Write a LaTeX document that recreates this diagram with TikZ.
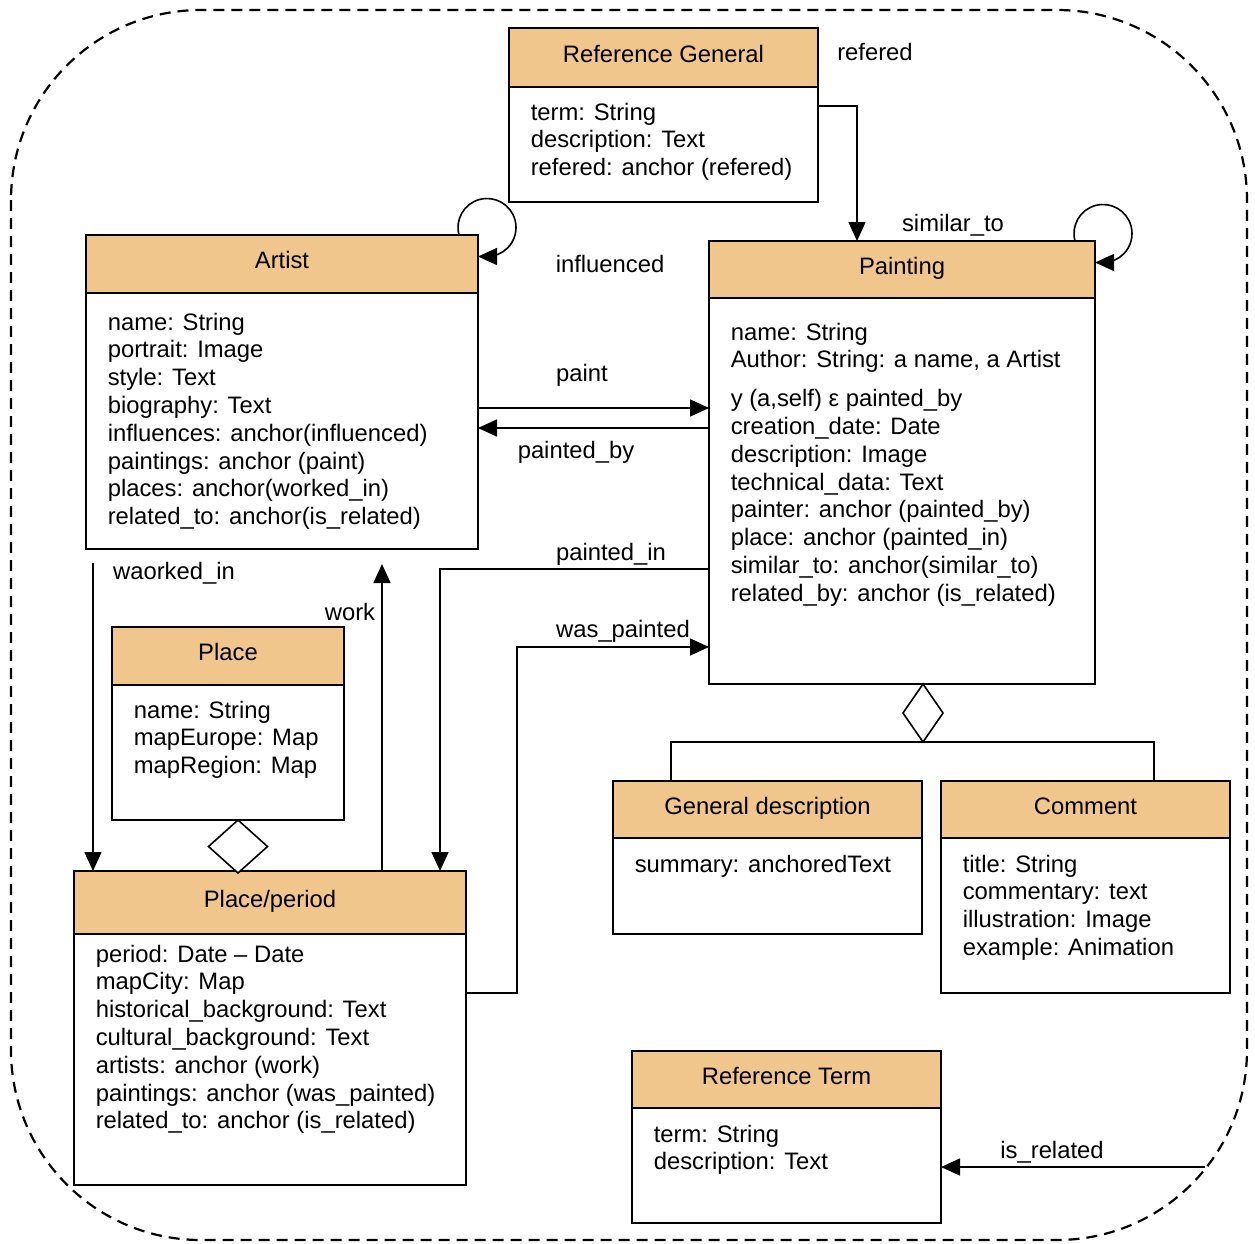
\documentclass[tikz,border=0pt]{standalone}
\usepackage{fontspec}
\setmainfont{Liberation Sans}
\usetikzlibrary{arrows.meta,shapes.geometric,calc}
\definecolor{classtan}{RGB}{240,198,140}

\begin{document}
\begin{tikzpicture}[x=1pt,y=-1pt,
    font=\fontsize{23.8}{27.8}\selectfont,
    line width=1.6pt,
    head/.style={draw, fill=classtan, anchor=north west, inner sep=0pt, outer sep=0pt, text height=17pt, text depth=8pt},
    body/.style={draw, fill=white, anchor=north west, inner sep=0pt, outer sep=0pt},
    attrs/.style={anchor=north west, align=left, inner sep=0pt},
    arr/.style={-{Triangle[length=19pt,width=17pt]}},
    agg/.style={draw, fill=white, diamond, inner sep=0pt, outer sep=0pt, anchor=north},
    rim/.style={dashed, line width=2.2pt, dash pattern=on 11pt off 7pt, rounded corners=190pt}]
            \useasboundingbox (0,0) rectangle (1255,1243);
            \draw[rim] (11,10) rectangle (1247,1240);
            % classes
            \node[head, minimum width=309pt, minimum height=59pt] (refgen) at (509,28) {Reference General};
            \node[body, minimum width=309pt, minimum height=115pt] (refgenbody) at (refgen.south west) {};
            \node[attrs] (refgentext) at ($(refgenbody.north west)+(21,15)$) {term: String\\description: Text\\refered: anchor (refered)};
            \node[head, minimum width=392pt, minimum height=58pt] (artist) at (86,235) {Artist};
            \node[body, minimum width=392pt, minimum height=256pt] (artistbody) at (artist.south west) {};
            \node[attrs] (artisttext) at ($(artistbody.north west)+(21,19)$) {name: String\\portrait: Image\\style: Text\\biography: Text\\influences: anchor(influenced)\\paintings: anchor (paint)\\places: anchor(worked\_in)\\related\_to: anchor(is\_related)};
            \node[head, minimum width=386pt, minimum height=57pt] (painting) at (709,241) {Painting};
            \node[body, minimum width=386pt, minimum height=386pt] (paintingbody) at (painting.south west) {};
            \node[attrs] (paintingtext) at ($(paintingbody.north west)+(21,24)$) {name: String\\Author: String: a name, a Artist\\[11pt]y (a,self) ε painted\_by\\creation\_date: Date\\description: Image\\technical\_data: Text\\painter: anchor (painted\_by)\\place: anchor (painted\_in)\\similar\_to: anchor(similar\_to)\\related\_by: anchor (is\_related)};
            \node[head, minimum width=232pt, minimum height=58pt] (place) at (112,627) {Place};
            \node[body, minimum width=232pt, minimum height=135pt] (placebody) at (place.south west) {};
            \node[attrs] (placetext) at ($(placebody.north west)+(21,15)$) {name: String\\mapEurope: Map\\mapRegion: Map};
            \node[head, minimum width=392pt, minimum height=63pt] (period) at (74,871) {Place/period};
            \node[body, minimum width=392pt, minimum height=251pt] (periodbody) at (period.south west) {};
            \node[attrs] (periodtext) at ($(periodbody.north west)+(21,10)$) {period: Date -- Date\\mapCity: Map\\historical\_background: Text\\cultural\_background: Text\\artists: anchor (work)\\paintings: anchor (was\_painted)\\related\_to: anchor (is\_related)};
            \node[head, minimum width=309pt, minimum height=57pt] (gendesc) at (613,781) {General description};
            \node[body, minimum width=309pt, minimum height=96pt] (gendescbody) at (gendesc.south west) {};
            \node[attrs] (gendesctext) at ($(gendescbody.north west)+(21,16)$) {summary: anchoredText};
            \node[head, minimum width=289pt, minimum height=57pt] (comment) at (941,781) {Comment};
            \node[body, minimum width=289pt, minimum height=155pt] (commentbody) at (comment.south west) {};
            \node[attrs] (commenttext) at ($(commentbody.north west)+(21,16)$) {title: String\\commentary: text\\illustration: Image\\example: Animation};
            \node[head, minimum width=309pt, minimum height=57pt] (refterm) at (632,1051) {Reference Term};
            \node[body, minimum width=309pt, minimum height=115pt] (reftermbody) at (refterm.south west) {};
            \node[attrs] (refermtext) at ($(reftermbody.north west)+(21,16)$) {term: String\\description: Text};
            % aggregations
            \node[agg, minimum width=59pt, minimum height=53pt] (placeagg) at ($(placebody.south)+(10,0)$) {};
            \node[agg, minimum width=40pt, minimum height=58pt] (paintagg) at ($(paintingbody.south)+(21,0)$) {};
            \draw ($(gendesc.north west)+(58,0)$) |- (paintagg.south) -| ($(comment.north west)+(213,0)$);
            % associations
            \draw[arr] ($(refgenbody.north east)+(0,19)$) -| ($(painting.north west)+(148,0)$);
            \draw[arr] ($(artist.north east)+(-19,0)$) arc[start angle=165, end angle=450, radius=29] -- ++(-9,0);
            \draw[arr] ($(painting.north east)+(-20,0)$) arc[start angle=165, end angle=450, radius=29] -- ++(-8,0);
            \draw[arr] (artistbody.east |- 0,408) -- (paintingbody.west |- 0,408);
            \draw[arr] (paintingbody.west |- 0,428) -- (artistbody.east |- 0,428);
            \draw[arr] (paintingbody.west |- 0,569) -| ($(period.north west)+(366,0)$);
            \draw[arr] (periodbody.east |- 0,993) -- ++(51,0) |- (paintingbody.west |- 0,647);
            \draw[arr] ($(artistbody.south west)+(7,14)$) -- ($(period.north west)+(19,0)$);
            \draw[arr] ($(period.north west)+(308,0)$) -- ($(artistbody.south west)+(296,15)$);
            \coordinate (rimpoint) at (1205,1167);
            \draw[arr] (rimpoint) -- (reftermbody.east |- rimpoint);
            % labels
            \node (lblrefered) at (875,52) {refered};
            \node (lblinfluenced) at (610,264) {influenced};
            \node (lblsimilar) at (953,225) {similar\_to};
            \node (lblpaint) at (582,375) {paint};
            \node (lblpaintedby) at (576,452) {painted\_by};
            \node (lblpaintedin) at (611,554) {painted\_in};
            \node (lblwaspainted) at (623,631) {was\_painted};
            \node (lblworkedin) at (174,573) {waorked\_in};
            \node (lblwork) at (350,612) {work};
            \node (lblrelated) at (1052,1152) {is\_related};
        \end{tikzpicture}
\end{document}
